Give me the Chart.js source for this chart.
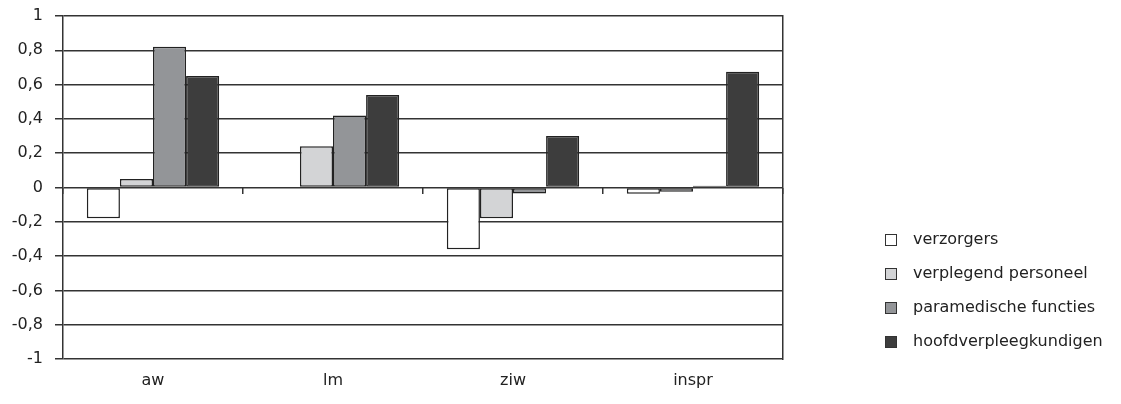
<!DOCTYPE html>
<html>
<head>
<meta charset="utf-8">
<script src="https://cdn.jsdelivr.net/npm/chart.js@4/dist/chart.umd.min.js"></script>
<style>
  html, body { margin: 0; padding: 0; background: #fff; }
  #wrap { width: 1121px; height: 404px; position: relative; }
</style>
</head>
<body>
<div id="wrap"><canvas id="c" width="1121" height="404"></canvas></div>
<script>
// Categories and series
const categories = ['aw', 'lm', 'ziw', 'inspr'];
const verzorgers = [-0.18, 0, -0.36, -0.037];
const verplegendPersoneel = [0.05, 0.24, -0.18, -0.025];
const paramedischeFuncties = [0.82, 0.42, -0.035, 0.01];
const hoofdverpleegkundigen = [0.65, 0.54, 0.30, 0.675];
const seriesNames = ['verzorgers', 'verplegend personeel', 'paramedische functies', 'hoofdverpleegkundigen'];
const yTicks = [-1, -0.8, -0.6, -0.4, -0.2, 0, 0.2, 0.4, 0.6, 0.8, 1];

const FONT = '"DejaVu Sans", "Noto Sans", sans-serif';
const fills = ['#ffffff', '#d3d4d6', '#939598', '#3d3d3d'];
const lineCol = '#333333';

const seriesValues = [verzorgers, verplegendPersoneel, paramedischeFuncties, hoofdverpleegkundigen];

// Legend drawn at the right of the plot, one row per series
const sideLegend = {
  id: 'sideLegend',
  afterDraw(chart) {
    const ctx = chart.ctx;
    ctx.save();
    ctx.font = '16px ' + FONT;
    ctx.textBaseline = 'middle';
    chart.data.datasets.forEach((ds, i) => {
      const cy = 240 + i * 34;
      ctx.fillStyle = ds.backgroundColor;
      ctx.fillRect(885, cy - 5, 11, 11);
      ctx.strokeStyle = lineCol;
      ctx.lineWidth = 1;
      ctx.strokeRect(885.5, cy - 5.5, 11, 11);
      ctx.fillStyle = '#222';
      ctx.fillText(ds.label, 913, cy);
    });
    ctx.restore();
  }
};

new Chart(document.getElementById('c'), {
  type: 'bar',
  data: {
    labels: categories,
    datasets: seriesValues.map((vals, i) => ({
      label: seriesNames[i],
      data: vals,
      backgroundColor: fills[i],
      borderColor: '#222',
      borderWidth: 1.5,
      borderSkipped: false,
      categoryPercentage: 0.735,
      barPercentage: 1
    }))
  },
  options: {
    responsive: false,
    animation: false,
    layout: { padding: { top: 16, right: 338, left: 0, bottom: 0 } },
    plugins: { legend: { display: false }, tooltip: { enabled: false } },
    scales: {
      x: {
        position: 'bottom',
        offset: true,
        grid: { display: false },
        border: { display: false },
        ticks: { color: '#222', font: { family: FONT, size: 16 }, padding: 4 },
        afterFit(s) { s.height = 45; s.paddingLeft = 0; s.paddingRight = 0; }
      },
      xZero: {
        type: 'category',
        labels: categories,
        position: { y: 0 },
        offset: true,
        grid: {
          offset: true,
          drawOnChartArea: false,
          drawTicks: true,
          tickLength: 6,
          color: lineCol,
          lineWidth: 1.5
        },
        border: { display: false },
        ticks: { display: false }
      },
      y: {
        min: -1,
        max: 1,
        afterBuildTicks(s) { s.ticks = yTicks.map(v => ({ value: v })); },
        grid: { color: lineCol, lineWidth: 1.5, tickLength: 8 },
        border: { color: lineCol, width: 1.5 },
        ticks: {
          color: '#222',
          font: { family: FONT, size: 16 },
          padding: 12,
          callback: (v) => String(Math.round(v * 10) / 10).replace('.', ',')
        },
        afterFit(s) { s.width = 63; s.paddingTop = 0; s.paddingBottom = 0; }
      },
      yRight: {
        position: 'right',
        min: -1,
        max: 1,
        grid: { display: false },
        border: { display: true, color: lineCol, width: 1.5 },
        ticks: { display: false },
        afterFit(s) { s.width = 0; s.paddingTop = 0; s.paddingBottom = 0; }
      }
    }
  },
  plugins: [sideLegend]
});
</script>
</body>
</html>
